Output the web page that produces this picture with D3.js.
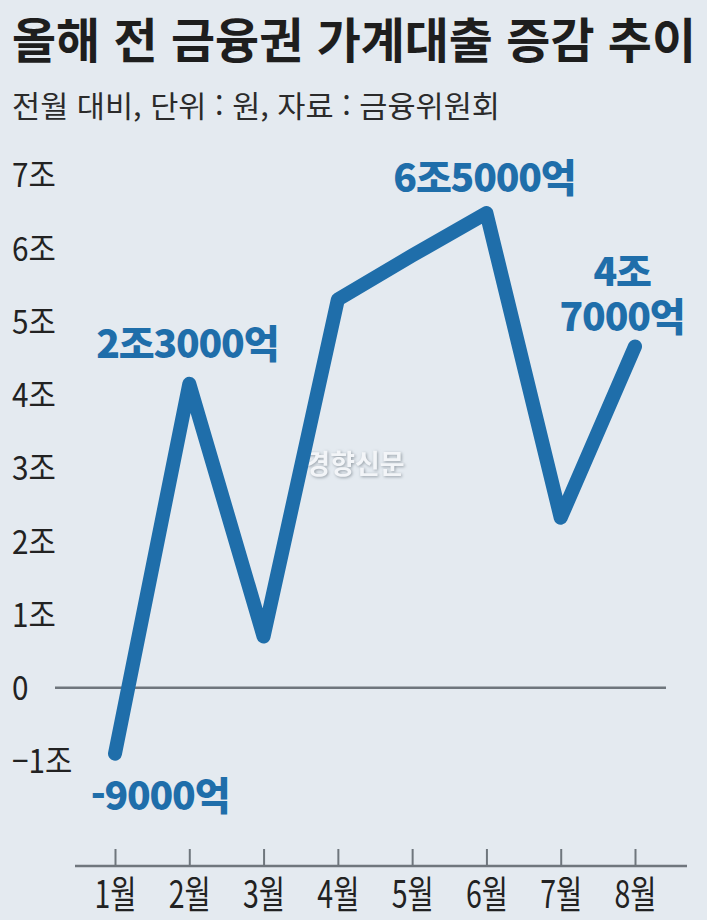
<!DOCTYPE html>
<html lang="ko">

<head>
  <meta charset="UTF-8">
  <title>올해 전 금융권 가계대출 증감 추이</title>
  <style>
    body { margin: 0; background: #e4eaf0; }
    text { font-family: 'Noto Sans CJK KR', 'Noto Sans', sans-serif; }
  </style>
</head>

<body>
  <svg width="707" height="920" class="svgs"></svg>
  <script src="https://cdn.jsdelivr.net/npm/d3@7/dist/d3.min.js"></script>
  <script>
    // data (조 원)
    const months = ['1월', '2월', '3월', '4월', '5월', '6월', '7월', '8월']
    const values = [-0.9, 4.15, 0.7, 5.3, 5.9, 6.48, 2.32, 4.66]
    const yTicks = [-1, 0, 1, 2, 3, 4, 5, 6, 7]
    // value labels: month index + text lines
    const labelMonths = [0, 1, 5, 7]
    const labelTexts = [['-9000억'], ['2조3000억'], ['6조5000억'], ['4조', '7000억']]

    const title = '올해 전 금융권 가계대출 증감 추이'
    const subtitle = '전월 대비, 단위 : 원, 자료 : 금융위원회'

    const blue = '#1f6eaa'
    const mainsvg = d3.select('.svgs')

    mainsvg.append('rect')
      .attr('width', 707).attr('height', 920)
      .attr('fill', '#e4eaf0')

    const xScale = d3.scalePoint()
      .domain(months)
      .range([115, 635])

    const yScale = d3.scaleLinear()
      .domain([-1, 7])
      .range([761, 175])

    // title
    mainsvg.append('text')
      .text(title)
      .attr('x', 12).attr('y', 58)
      .attr('font-size', 48)
      .attr('font-weight', 700)
      .attr('fill', '#1e1e1e')
      .attr('textLength', 684)
      .attr('lengthAdjust', 'spacingAndGlyphs')

    mainsvg.append('text')
      .text(subtitle)
      .attr('x', 12).attr('y', 117)
      .attr('font-size', 30)
      .attr('fill', '#2b2b2b')
      .attr('textLength', 488)
      .attr('lengthAdjust', 'spacingAndGlyphs')

    // y axis labels
    const yAxis = d3.axisLeft(yScale)
      .tickValues(yTicks)
      .tickSize(0)
      .tickFormat(d => d === 0 ? '0' : (d < 0 ? '−' + (-d) : d) + '조')
    const yg = mainsvg.append('g')
      .attr('transform', 'translate(12, 0)')
      .call(yAxis)
    yg.select('.domain').remove()
    yg.selectAll('.tick text')
      .attr('x', 0)
      .attr('dy', '0.36em')
      .attr('text-anchor', 'start')
      .attr('font-size', 33)
      .attr('fill', '#222')
      .attr('font-family', "'Noto Sans CJK KR', sans-serif")
      .attr('transform', 'scale(0.9, 1)')

    // zero line
    mainsvg.append('line')
      .attr('x1', 55).attr('x2', 666)
      .attr('y1', yScale(0)).attr('y2', yScale(0))
      .attr('stroke', '#6f767d')
      .attr('stroke-width', 2.5)

    // x axis
    const xAxis = d3.axisBottom(xScale)
      .tickSizeInner(-17)
      .tickSizeOuter(0)
    const xg = mainsvg.append('g')
      .attr('transform', 'translate(0, 866)')
      .call(xAxis)
    xg.select('.domain').remove()
    xg.append('line')
      .attr('x1', 75).attr('x2', 687)
      .attr('stroke', '#6f767d')
      .attr('stroke-width', 2.5)
    xg.selectAll('.tick line')
      .attr('stroke', '#6f767d')
      .attr('stroke-width', 2)
    xg.selectAll('.tick text')
      .attr('y', 42)
      .attr('dy', 0)
      .attr('font-size', 38)
      .attr('fill', '#222')
      .attr('font-family', "'Noto Sans CJK KR', sans-serif")
      .attr('transform', 'scale(0.75, 1)')

    // watermark
    mainsvg.append('text')
      .text('경향신문')
      .attr('x', 355).attr('y', 474)
      .attr('text-anchor', 'middle')
      .attr('font-size', 27)
      .attr('font-weight', 700)
      .attr('fill', '#f3f5f8')
      .style('filter', 'drop-shadow(1px 1px 1.5px rgba(90,100,110,0.55))')

    // line
    const line = d3.line()
      .x((d, i) => xScale(months[i]))
      .y(d => yScale(d))

    mainsvg.append('path')
      .datum(values)
      .attr('d', line)
      .attr('fill', 'none')
      .attr('stroke', blue)
      .attr('stroke-width', 14)
      .attr('stroke-linejoin', 'round')
      .attr('stroke-linecap', 'round')

    // value labels, offsets from their point
    const labelOffsets = [[45, 56], [-2, -26], [-2, -21], [-13, -60]]
    labelMonths.forEach((m, i) => {
      const px = xScale(months[m]) + labelOffsets[i][0]
      const py = yScale(values[m]) + labelOffsets[i][1]
      const t = mainsvg.append('text')
        .attr('x', px)
        .attr('y', py)
        .attr('text-anchor', 'middle')
        .attr('font-size', 39)
        .attr('font-weight', 900)
        .attr('letter-spacing', -1.2)
        .attr('fill', blue)
      labelTexts[i].forEach((s, j) => {
        t.append('tspan')
          .text(s)
          .attr('x', px)
          .attr('dy', j === 0 ? 0 : 45)
      })
    })
  </script>
</body>

</html>
